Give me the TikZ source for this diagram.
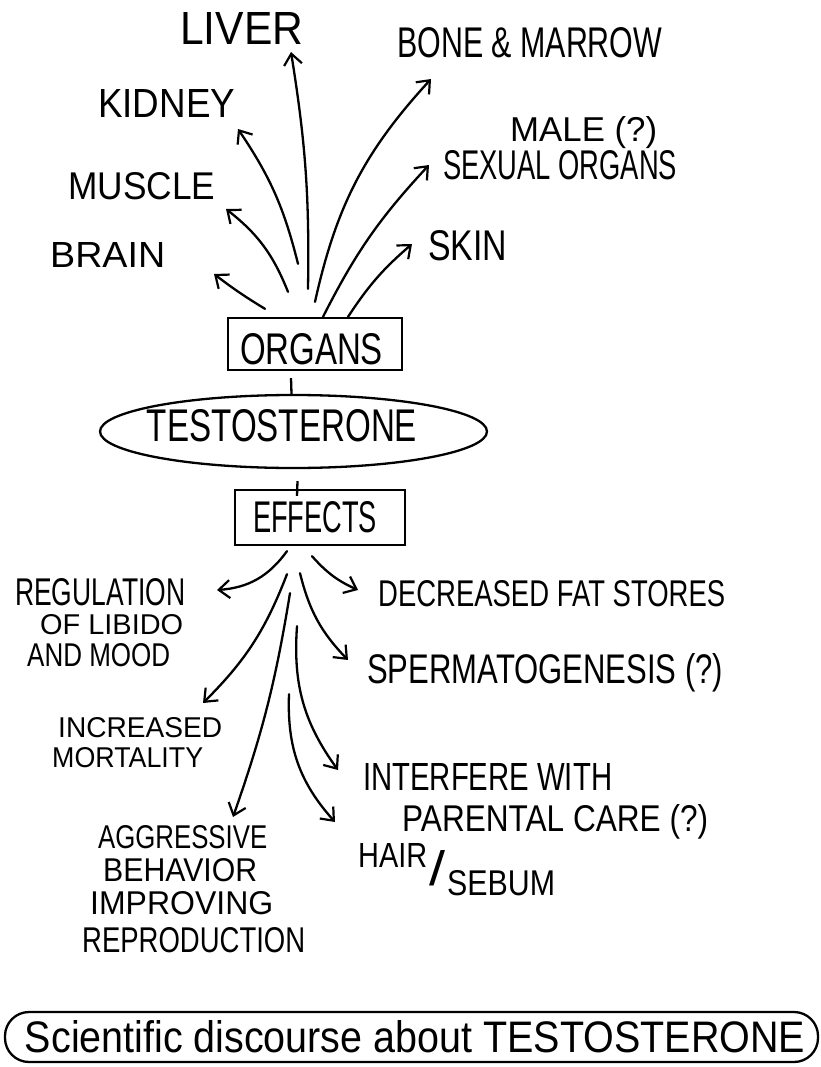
\documentclass[tikz,border=0pt]{standalone}
\usepackage{fontspec}
\usepackage{graphicx}
\setmainfont{Liberation Sans}
\usetikzlibrary{arrows.meta,shapes.geometric,calc}
\newcommand{\hwb}[3]{\resizebox{#1pt}{#2pt}{#3}}
\begin{document}
\begin{tikzpicture}[x=1pt,y=1pt,
  lbl/.style={anchor=base, inner sep=0pt, font=\fontsize{30}{30}\selectfont},
  lblw/.style={anchor=base west, inner sep=0pt, font=\fontsize{30}{30}\selectfont},
  arr/.style={-{Straight Barb[length=11pt,width=18pt,line width=2.2pt]}, line width=2.3pt, line cap=round},
  box/.style={draw, line width=2.3pt, inner sep=0pt, font=\fontsize{30}{30}\selectfont},
  tick/.style={line width=2.3pt}]
\useasboundingbox (0,0) rectangle (820,-1067);
\fill[white] (0,0) rectangle (820,-1067);

% ---- organ labels
\node[lblw] (liver)  at (180,-45)  {\hwb{123}{32}{LIVER}};
\node[lblw] (bone)   at (397,-58)  {\hwb{265}{30}{BONE \& MARROW}};
\node[lblw] (kidney) at (98,-118)  {\hwb{137}{28}{KIDNEY}};
\node[lblw] (male)   at (510,-142) {\hwb{147}{25}{MALE (?)}};
\node[lblw] (sexual) at (443,-180) {\hwb{234}{29}{SEXUAL ORGANS}};
\node[lblw] (muscle) at (68,-200)  {\hwb{147}{27}{MUSCLE}};
\node[lblw] (skin)   at (428,-260) {\hwb{79}{30}{SKIN}};
\node[lblw] (brain)  at (50,-267)  {\hwb{115}{25}{BRAIN}};

% ---- central boxes
\node[box, minimum width=174pt, minimum height=52pt, text height=40pt, text depth=0pt] (organs) at (315,-344) {\makebox[0pt]{\hwb{143}{31}{ORGANS}\hspace*{7pt}}};
\node[box, ellipse, minimum width=387pt, minimum height=73pt, text height=19pt, text depth=0pt] (testo) at (293.5,-431.5) {\makebox[0pt]{\hwb{270}{32}{TESTOSTERONE}\hspace*{23pt}}};
\node[box, minimum width=170pt, minimum height=55pt, text height=29pt, text depth=0pt] (effects) at (320,-517.5) {\makebox[0pt]{\hwb{124}{31}{EFFECTS}\hspace*{10pt}}};

\draw[tick] ([xshift=-24pt,yshift=-7pt]organs.south) -- ([xshift=-2pt]testo.north);
\draw[tick] ([xshift=4pt,yshift=-12pt]testo.south) -- ([xshift=-23pt,yshift=-7pt]effects.north);

% ---- effect labels
\node[lblw] (reg1) at (15,-605) {\hwb{170}{27}{REGULATION}};
\node[lblw] (reg2) at (40,-634) {\hwb{143}{20}{OF LIBIDO}};
\node[lblw] (reg3) at (27,-666) {\hwb{143}{23}{AND MOOD}};
\node[lblw] (inc1) at (58,-737) {\hwb{164}{20}{INCREASED}};
\node[lblw] (inc2) at (52,-767) {\hwb{151}{20}{MORTALITY}};
\node[lblw] (agg1) at (98,-848) {\hwb{169}{23}{AGGRESSIVE}};
\node[lblw] (agg2) at (103,-881) {\hwb{154}{23}{BEHAVIOR}};
\node[lblw] (agg3) at (90,-914) {\hwb{183}{23}{IMPROVING}};
\node[lblw] (agg4) at (82,-952) {\hwb{223}{25}{REPRODUCTION}};
\node[lblw] (decr) at (378,-606) {\hwb{347}{26}{DECREASED FAT STORES}};
\node[lblw] (sperm) at (367,-683) {\hwb{356}{30}{SPERMATOGENESIS (?)}};
\node[lblw] (int1) at (363,-790) {\hwb{249}{27}{INTERFERE WITH}};
\node[lblw] (int2) at (402,-831) {\hwb{306}{27}{PARENTAL CARE (?)}};
\node[lblw] (hair) at (358,-867) {\hwb{69}{24}{HAIR}\hspace{2pt}\raisebox{-18pt}{\hwb{16}{35}{\fontsize{48}{48}\selectfont /}}\hspace{2pt}\raisebox{-28pt}{\hwb{108}{25}{SEBUM}}};

% ---- bottom caption
\node[box, rounded corners=24pt, minimum width=813pt, minimum height=50pt, text height=30pt, text depth=0pt] (sci) at (411.5,-1037) {\makebox[0pt]{\hspace*{7pt}\hwb{780}{32}{Scientific discourse about TESTOSTERONE}}};

% ---- arrow end points
\coordinate (tBrain)  at (214,-274);
\coordinate (tMuscle) at (226,-209);
\coordinate (tKidney) at (238,-129);
\coordinate (tLiver)  at (291,-52);
\coordinate (tBone)   at (431,-79);
\coordinate (tSex)    at (429,-165);
\coordinate (tSkin)   at (412,-244);

\coordinate (tReg)    at (217,-590);
\coordinate (tMort)   at (203,-703);
\coordinate (tAgg)    at (233,-817);
\coordinate (tInt)    at (338,-770);
\coordinate (tHair)   at (335,-822);
\coordinate (tSperm)  at (348,-660);
\coordinate (tDecr)   at (358,-590);

% ---- arrows up from ORGANS
\draw[arr] ($(organs.north)+(-50,8)$) to[bend left=3]  (tBrain);
\draw[arr] ($(organs.north)+(-27,25)$) to[bend right=15] (tMuscle);
\draw[arr] ($(organs.north)+(-17,53)$) to[bend right=10] (tKidney);
\draw[arr] ($(organs.north)+(-7,28)$)  to[bend right=5]  (tLiver);
\draw[arr] ($(organs.north)+(0,15)$)   to[bend left=15]  (tBone);
\draw[arr] ($(organs.north)+(8,0)$)    to[bend left=8]   (tSex);
\draw[arr] ($(organs.north)+(33,0)$)   to[bend left=8]   (tSkin);

% ---- arrows down from EFFECTS
\draw[arr] ($(effects.south)+(-33,-5)$)   to[bend left=25]  (tReg);
\draw[arr] ($(effects.south)+(-33,-28)$)  to[bend left=12]  (tMort);
\draw[arr] ($(effects.south)+(-30,-47)$)  to[bend left=5]   (tAgg);
\draw[arr] ($(effects.south)+(-23,-80)$)  to[bend right=20] (tInt);
\draw[arr] ($(effects.south)+(-31,-148)$) to[bend right=22] (tHair);
\draw[arr] ($(effects.south)+(-20,-27)$)  to[bend right=15] (tSperm);
\draw[arr] ($(effects.south)+(-8,-10)$)   to[bend right=12] (tDecr);
\end{tikzpicture}
\end{document}
